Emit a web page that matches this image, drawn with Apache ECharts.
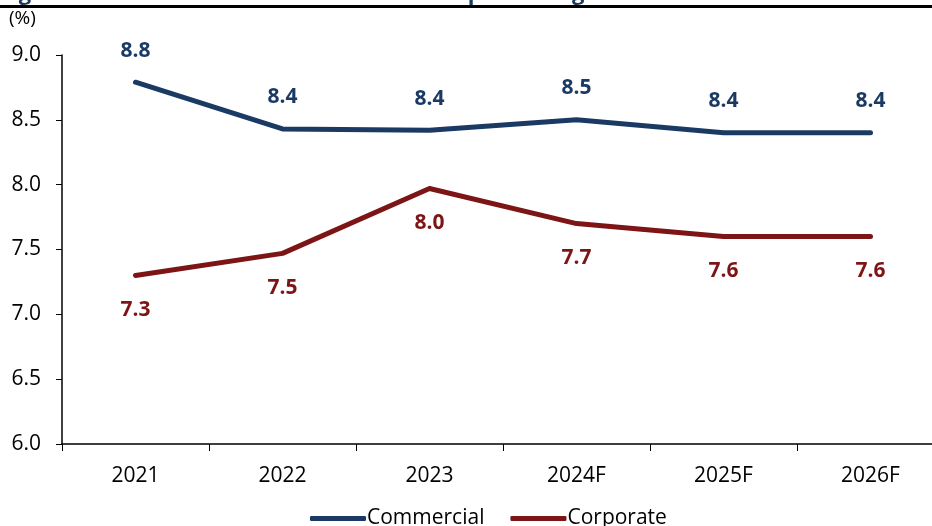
<!DOCTYPE html>
<html>
<head>
<meta charset="utf-8">
<script src="https://cdn.jsdelivr.net/npm/echarts@6/dist/echarts.min.js"></script>
<style>
	* { margin: 0; padding: 0; }
	html, body { width: 932px; height: 526px; background: #fff; overflow: hidden; }
	#main { width: 932px; height: 526px; }
</style>
</head>
<body>
<div id="main"></div>
<script>
	// 数据
	var years = ['2021', '2022', '2023', '2024F', '2025F', '2026F'];
	var commercial = [8.79, 8.43, 8.42, 8.50, 8.40, 8.40];
	var corporate = [7.30, 7.47, 7.97, 7.70, 7.60, 7.60];
	var yTicks = { min: 6, max: 9, step: 0.5 };

	var navy = '#1b3a63';
	var maroon = '#7d1416';
	var font = '"Open Sans", "Noto Sans", sans-serif';

	function oneDecimal(p) {
		return p.value.toFixed(1);
	}

	var chart = echarts.init(document.getElementById('main'));
	chart.setOption({
		animation: false,
		textStyle: { fontFamily: font },
		graphic: [{
			type: 'text',
			left: 0,
			top: -17,
			style: {
				text: 'Figure 6: Loan Yields of Commercial vs. Corporate Segments',
				font: 'bold 22px ' + font,
				fill: '#1b3a63'
			}
		}, {
			type: 'rect',
			left: 0,
			top: 5,
			shape: { width: 932, height: 3 },
			style: { fill: '#000' }
		}, {
			type: 'text',
			left: 9,
			top: 9,
			style: { text: '(%)', font: '19px ' + font, fill: '#000' }
		}],
		legend: {
			left: 305,
			top: 503,
			itemWidth: 56,
			itemHeight: 5,
			itemGap: 26,
			icon: 'roundRect',
			textStyle: { fontSize: 21, color: '#000', padding: [0, 0, 0, -4] },
			data: ['Commercial', 'Corporate']
		},
		grid: {
			left: 62,
			top: 55,
			width: 882,
			height: 389,
			outerBoundsMode: 'none',
			containLabel: false
		},
		xAxis: {
			type: 'category',
			data: years,
			boundaryGap: true,
			axisLine: { lineStyle: { color: '#000', width: 1.5 } },
			axisTick: { show: true, length: 7, inside: false, lineStyle: { color: '#000' } },
			axisLabel: { fontSize: 21, color: '#000', margin: 22 }
		},
		yAxis: {
			type: 'value',
			min: yTicks.min,
			max: yTicks.max,
			interval: yTicks.step,
			splitLine: { show: false },
			axisLine: { show: true, lineStyle: { color: '#000', width: 1.5 } },
			axisTick: { show: true, length: 6, lineStyle: { color: '#000' } },
			axisLabel: {
				fontSize: 21,
				color: '#000',
				margin: 21,
				formatter: function(v) { return v.toFixed(1); }
			}
		},
		series: [{
			name: 'Commercial',
			type: 'line',
			data: commercial,
			symbol: 'circle',
			symbolSize: 0,
			showSymbol: true,
			color: navy,
			lineStyle: { width: 5, color: navy, cap: 'round', join: 'round' },
			label: {
				show: true,
				position: 'top',
				distance: 21,
				fontSize: 21,
				fontWeight: 'bold',
				color: navy,
				formatter: oneDecimal
			}
		}, {
			name: 'Corporate',
			type: 'line',
			data: corporate,
			symbol: 'circle',
			symbolSize: 0,
			showSymbol: true,
			color: maroon,
			lineStyle: { width: 5, color: maroon, cap: 'round', join: 'round' },
			label: {
				show: true,
				position: 'bottom',
				distance: 24,
				fontSize: 21,
				fontWeight: 'bold',
				color: maroon,
				formatter: oneDecimal
			}
		}]
	});
</script>
</body>
</html>
